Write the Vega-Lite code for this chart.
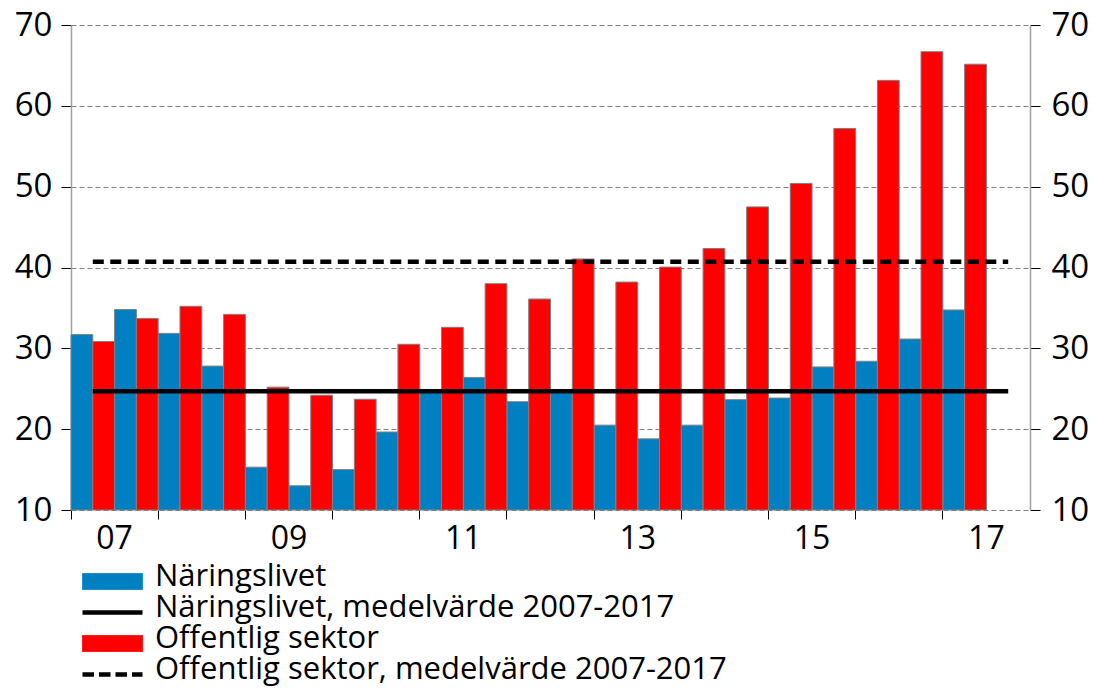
{
  "$schema": "https://vega.github.io/schema/vega-lite/v6.json",
  "width": 959,
  "height": 485,
  "autosize": {"type": "none"},
  "padding": {"left": 71, "top": 25, "right": 65, "bottom": 184},
  "background": "white",
  "config": {
    "view": {"stroke": null},
    "font": "Open Sans",
    "axis": {"labelFont": "Open Sans", "labelColor": "#000000", "title": null},
    "legend": {"labelFont": "Open Sans"}
  },
  "datasets": {
    "bars": [
      {"period": "2007H1", "series": "Näringslivet", "value": 31.7},
      {"period": "2007H2", "series": "Näringslivet", "value": 34.8},
      {"period": "2008H1", "series": "Näringslivet", "value": 31.85},
      {"period": "2008H2", "series": "Näringslivet", "value": 27.8},
      {"period": "2009H1", "series": "Näringslivet", "value": 15.3},
      {"period": "2009H2", "series": "Näringslivet", "value": 13.0},
      {"period": "2010H1", "series": "Näringslivet", "value": 15.0},
      {"period": "2010H2", "series": "Näringslivet", "value": 19.65},
      {"period": "2011H1", "series": "Näringslivet", "value": 24.8},
      {"period": "2011H2", "series": "Näringslivet", "value": 26.4},
      {"period": "2012H1", "series": "Näringslivet", "value": 23.4},
      {"period": "2012H2", "series": "Näringslivet", "value": 24.6},
      {"period": "2013H1", "series": "Näringslivet", "value": 20.5},
      {"period": "2013H2", "series": "Näringslivet", "value": 18.8},
      {"period": "2014H1", "series": "Näringslivet", "value": 20.5},
      {"period": "2014H2", "series": "Näringslivet", "value": 23.65},
      {"period": "2015H1", "series": "Näringslivet", "value": 23.85},
      {"period": "2015H2", "series": "Näringslivet", "value": 27.7},
      {"period": "2016H1", "series": "Näringslivet", "value": 28.4},
      {"period": "2016H2", "series": "Näringslivet", "value": 31.15},
      {"period": "2017H1", "series": "Näringslivet", "value": 34.75},
      {"period": "2007H1", "series": "Offentlig sektor", "value": 30.85},
      {"period": "2007H2", "series": "Offentlig sektor", "value": 33.7},
      {"period": "2008H1", "series": "Offentlig sektor", "value": 35.2},
      {"period": "2008H2", "series": "Offentlig sektor", "value": 34.2},
      {"period": "2009H1", "series": "Offentlig sektor", "value": 25.2},
      {"period": "2009H2", "series": "Offentlig sektor", "value": 24.2},
      {"period": "2010H1", "series": "Offentlig sektor", "value": 23.7},
      {"period": "2010H2", "series": "Offentlig sektor", "value": 30.5},
      {"period": "2011H1", "series": "Offentlig sektor", "value": 32.6},
      {"period": "2011H2", "series": "Offentlig sektor", "value": 38.0},
      {"period": "2012H1", "series": "Offentlig sektor", "value": 36.1},
      {"period": "2012H2", "series": "Offentlig sektor", "value": 41.05},
      {"period": "2013H1", "series": "Offentlig sektor", "value": 38.2},
      {"period": "2013H2", "series": "Offentlig sektor", "value": 40.05},
      {"period": "2014H1", "series": "Offentlig sektor", "value": 42.35},
      {"period": "2014H2", "series": "Offentlig sektor", "value": 47.5},
      {"period": "2015H1", "series": "Offentlig sektor", "value": 50.4},
      {"period": "2015H2", "series": "Offentlig sektor", "value": 57.2},
      {"period": "2016H1", "series": "Offentlig sektor", "value": 63.15},
      {"period": "2016H2", "series": "Offentlig sektor", "value": 66.7},
      {"period": "2017H1", "series": "Offentlig sektor", "value": 65.15}
    ],
    "means": [
      {"series": "Näringslivet, medelvärde 2007-2017", "start": "2007H1", "end": "2017H2", "value": 24.7},
      {"series": "Offentlig sektor, medelvärde 2007-2017", "start": "2007H1", "end": "2017H2", "value": 40.7}
    ]
  },
  "layer": [
    {
      "data": {"name": "bars"},
      "mark": {"type": "bar", "stroke": "#808080", "strokeWidth": 1},
      "encoding": {
        "x": {
          "field": "period", "type": "nominal",
          "scale": {"domain": ["2007H1","2007H2","2008H1","2008H2","2009H1","2009H2","2010H1","2010H2","2011H1","2011H2","2012H1","2012H2","2013H1","2013H2","2014H1","2014H2","2015H1","2015H2","2016H1","2016H2","2017H1","2017H2"], "paddingInner": 0, "paddingOuter": 0},
          "axis": {
            "orient": "bottom",
            "values": ["2007H1","2008H1","2009H1","2010H1","2011H1","2012H1","2013H1","2014H1","2015H1","2016H1","2017H1"],
            "bandPosition": 0,
            "labelOffset": 21.8,
            "labelExpr": "(+substring(datum.value,0,4)) % 2 == 1 ? substring(datum.value,2,4) : ''",
            "labelAngle": 0,
            "labelFontSize": 32,
            "labelPadding": 4,
            "labelOverlap": false,
            "tickSize": 9,
            "tickColor": "#000000",
            "tickWidth": 1,
            "domain": false,
            "grid": false,
            "title": null
          }
        },
        "xOffset": {"field": "series", "type": "nominal", "scale": {"domain": ["Näringslivet", "Offentlig sektor"], "paddingInner": 0, "paddingOuter": 0}},
        "y": {
          "field": "value", "type": "quantitative",
          "scale": {"domain": [10, 70], "nice": false, "zero": false},
          "axis": {
            "orient": "left",
            "values": [10, 20, 30, 40, 50, 60, 70],
            "labelFontSize": 33,
            "labelPadding": 9,
            "tickSize": 10,
            "tickColor": "#000000",
            "domainColor": "#a0a0a0",
            "domainWidth": 1.5,
            "grid": true,
            "gridColor": "#808080",
            "gridDash": [5, 3],
            "gridWidth": 1.2,
            "title": null
          }
        },
        "y2": {"datum": 10},
        "color": {
          "field": "series", "type": "nominal",
          "scale": {
            "domain": ["Näringslivet", "Näringslivet, medelvärde 2007-2017", "Offentlig sektor", "Offentlig sektor, medelvärde 2007-2017"],
            "range": ["#0080c0", "#000000", "#ff0000", "#000000"]
          },
          "legend": {
            "orient": "none",
            "legendX": 26,
            "legendY": 536,
            "direction": "vertical",
            "title": null,
            "padding": 0,
            "labelFontSize": 31,
            "labelColor": "#000000",
            "labelLimit": 900,
            "labelOffset": 27,
            "rowPadding": -1,
            "symbolSize": 256,
            "symbolOpacity": 1,
            "symbolType": {"expr": "(datum.value == 'Näringslivet' || datum.value == 'Offentlig sektor') ? 'M-3.75,-0.375H3.75V1.625H-3.75Z' : 'M-3.75,0.625H3.75'"},
            "symbolStrokeColor": {"expr": "(datum.value == 'Näringslivet' || datum.value == 'Offentlig sektor') ? '#808080' : '#000000'"},
            "symbolStrokeWidth": {"expr": "(datum.value == 'Näringslivet' || datum.value == 'Offentlig sektor') ? 1 : 4.5"},
            "symbolDash": {"expr": "datum.value == 'Offentlig sektor, medelvärde 2007-2017' ? [11.5, 5] : [1, 0]"}
          }
        }
      }
    },
    {
      "data": {"name": "means"},
      "mark": {"type": "rule", "strokeWidth": 4.5},
      "encoding": {
        "x": {"field": "start", "type": "nominal", "bandPosition": 0.5},
        "x2": {"field": "end"},
        "y": {
          "field": "value", "type": "quantitative",
          "scale": {"domain": [10, 70], "nice": false, "zero": false},
          "axis": {
            "orient": "right",
            "values": [10, 20, 30, 40, 50, 60, 70],
            "labelFontSize": 33,
            "labelPadding": 11,
            "tickSize": 10,
            "tickColor": "#000000",
            "domainColor": "#a0a0a0",
            "domainWidth": 1.5,
            "grid": false,
            "title": null
          }
        },
        "color": {"field": "series", "type": "nominal"},
        "strokeDash": {
          "field": "series", "type": "nominal",
          "scale": {"domain": ["Näringslivet, medelvärde 2007-2017", "Offentlig sektor, medelvärde 2007-2017"], "range": [[1, 0], [11, 6.5]]},
          "legend": null
        }
      }
    }
  ],
  "resolve": {"scale": {"y": "independent"}}
}
